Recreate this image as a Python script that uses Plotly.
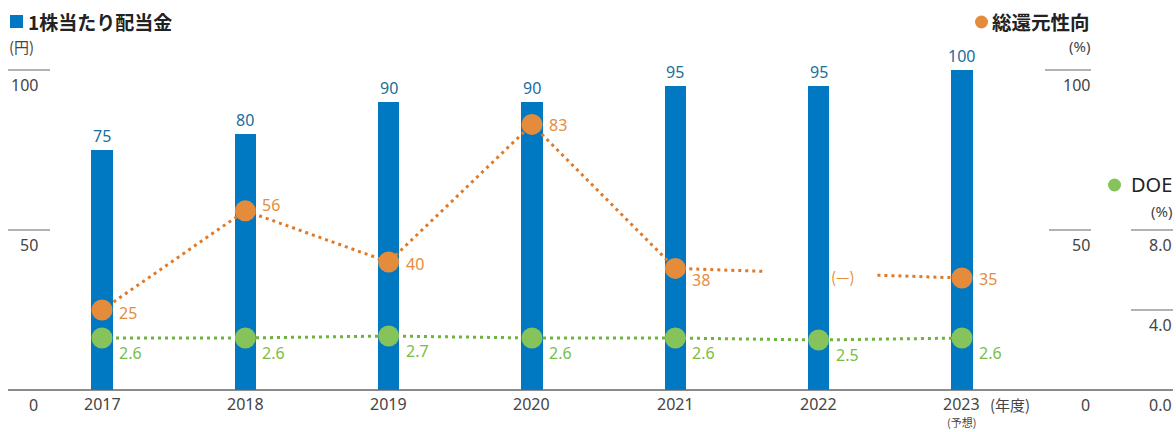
import plotly.graph_objects as go

# ---------------- data ----------------
years = ["2017", "2018", "2019", "2020", "2021", "2022", "2023"]
year_notes = ["", "", "", "", "", "", "(予想)"]
dividend = [75, 80, 90, 90, 95, 95, 100]            # 円
total_return = [25, 56, 40, 83, 38, None, 35]       # %
doe = [2.6, 2.6, 2.7, 2.6, 2.6, 2.5, 2.6]           # %

left_ticks = [0, 50, 100]
right_ticks = [0, 50, 100]
doe_ticks = [0.0, 4.0, 8.0]

# ---------------- style ----------------
W, H = 1176, 432
BLUE = "#0079C2"
BLUE_TXT = "#1A6E9A"
ORANGE = "#E58C3C"
ORANGE_LINE = "#E07A26"
GREEN = "#86C35A"
GREEN_LINE = "#6DB33F"
GREEN_TXT = "#78BE45"
GRAY = "#444444"
LINEGRAY = "#666666"
FONT = "Noto Sans, Noto Sans CJK JP"
JFONT = "Noto Sans CJK JP"

X0_PX, X1_PX = 8, 1173         # plot area left/right
Y0_PX, Y1_PX = 390, 70         # baseline / 100 line
CAT0_PX, CAT_STEP = 102, 143.33
xr = [(X0_PX - CAT0_PX) / CAT_STEP, (X1_PX - CAT0_PX) / CAT_STEP]

def px(x):
    return x / W

def py(y):
    return 1 - y / H

xs = list(range(len(years)))

fig = go.Figure()

# bars
fig.add_trace(go.Bar(
    x=xs, y=dividend, width=0.15, marker=dict(color=BLUE, line=dict(width=0)),
    yaxis="y", hoverinfo="skip",
))

# DOE line
fig.add_trace(go.Scatter(
    x=xs, y=doe, mode="lines+markers", yaxis="y3",
    line=dict(color=GREEN_LINE, width=3, dash="3px,4px"),
    marker=dict(color=GREEN, size=21), cliponaxis=False, hoverinfo="skip",
))

# total return ratio: continuous part
fig.add_trace(go.Scatter(
    x=xs, y=total_return, mode="lines", yaxis="y2", connectgaps=False,
    line=dict(color=ORANGE_LINE, width=3, dash="3px,4px"), hoverinfo="skip",
))
# broken bridge across the missing year (partial segments as drawn in the reference)
i_a, i_b = 4, 6
gap_a, gap_b = 0.62, 1.41   # fractions (in category units from i_a) where the line is interrupted
ya, yb = total_return[i_a], total_return[i_b]
span = i_b - i_a
seg_x = [i_a, i_a + gap_a, None, i_a + gap_b, i_b]
seg_y = [ya, ya + (yb - ya) * gap_a / span, None, ya + (yb - ya) * gap_b / span, yb]
fig.add_trace(go.Scatter(
    x=seg_x, y=seg_y, mode="lines", yaxis="y2", connectgaps=False,
    line=dict(color=ORANGE_LINE, width=3, dash="3px,4px"), hoverinfo="skip",
))
# orange markers
fig.add_trace(go.Scatter(
    x=xs, y=total_return, mode="markers", yaxis="y2",
    marker=dict(color=ORANGE, size=21), cliponaxis=False, hoverinfo="skip",
))

annotations = []
shapes = []

# bar labels
for i, v in enumerate(dividend):
    annotations.append(dict(x=i, y=v, xref="x", yref="y", text=str(v),
                            xanchor="center", yanchor="bottom", yshift=1,
                            showarrow=False, font=dict(color=BLUE_TXT, size=16, family=FONT)))

# orange labels
tr_yshift = [-3, 6, -2, -1, -12, 0, -1]
for i, v in enumerate(total_return):
    if v is None:
        continue
    annotations.append(dict(x=i, y=v, xref="x", yref="y2", text=str(v),
                            xanchor="left", yanchor="middle", xshift=15, yshift=tr_yshift[i],
                            showarrow=False, font=dict(color=ORANGE, size=16, family=FONT)))
# missing value label
annotations.append(dict(x=5, y=35.6, xref="x", yref="y2", text="(—)",
                        xanchor="left", yanchor="middle", xshift=10,
                        showarrow=False, font=dict(color=ORANGE, size=15, family=JFONT)))
# DOE labels
for i, v in enumerate(doe):
    annotations.append(dict(x=i, y=v, xref="x", yref="y3", text=f"{v:.1f}",
                            xanchor="left", yanchor="middle", xshift=15, yshift=-15,
                            showarrow=False, font=dict(color=GREEN_TXT, size=16, family=FONT)))

# x tick labels + notes
for i, yr in enumerate(years):
    annotations.append(dict(x=i, y=py(404), xref="x", yref="paper", text=yr,
                            xanchor="center", yanchor="middle", showarrow=False,
                            font=dict(color=GRAY, size=16, family=FONT)))
    if year_notes[i]:
        annotations.append(dict(x=i, y=py(422), xref="x", yref="paper", text=year_notes[i],
                                xanchor="center", yanchor="middle", showarrow=False,
                                font=dict(color=GRAY, size=11, family=JFONT)))
annotations.append(dict(x=px(1010), y=py(404), xref="paper", yref="paper", text="(年度)",
                        xanchor="center", yanchor="middle", showarrow=False,
                        font=dict(color=GRAY, size=15, family=JFONT)))

# left axis labels + ticks
for v in left_ticks:
    y_line = Y0_PX - (Y0_PX - Y1_PX) * v / 100
    annotations.append(dict(x=px(40), y=py(y_line + 15), xref="paper", yref="paper", text=str(v),
                            xanchor="right", yanchor="middle", showarrow=False,
                            font=dict(color=GRAY, size=16, family=FONT)))
    if v > 0:
        shapes.append(dict(type="line", xref="paper", yref="paper", x0=px(8), x1=px(50),
                           y0=py(y_line), y1=py(y_line), line=dict(color=LINEGRAY, width=1.2)))
# right axis (総還元性向)
for v in right_ticks:
    y_line = Y0_PX - (Y0_PX - Y1_PX) * v / 100
    annotations.append(dict(x=px(1092), y=py(y_line + 15), xref="paper", yref="paper", text=str(v),
                            xanchor="right", yanchor="middle", showarrow=False,
                            font=dict(color=GRAY, size=16, family=FONT)))
    if v > 0:
        shapes.append(dict(type="line", xref="paper", yref="paper",
                           x0=px(1045 if v == 100 else 1049), x1=px(1091),
                           y0=py(y_line), y1=py(y_line), line=dict(color=LINEGRAY, width=1.2)))
# DOE axis
for v in doe_ticks:
    y_line = Y0_PX - (Y0_PX - Y1_PX) * v / 16
    annotations.append(dict(x=px(1174), y=py(y_line + 15), xref="paper", yref="paper", text=f"{v:.1f}",
                            xanchor="right", yanchor="middle", showarrow=False,
                            font=dict(color=GRAY, size=16, family=FONT)))
    if v > 0:
        shapes.append(dict(type="line", xref="paper", yref="paper", x0=px(1131), x1=px(1173),
                           y0=py(y_line), y1=py(y_line), line=dict(color=LINEGRAY, width=1.2)))

# baseline
shapes.append(dict(type="line", xref="paper", yref="paper", x0=px(X0_PX), x1=px(X1_PX),
                   y0=py(Y0_PX), y1=py(Y0_PX), line=dict(color=LINEGRAY, width=1.4)))

# legend headers
shapes.append(dict(type="rect", xref="paper", yref="paper", x0=px(10), x1=px(23),
                   y0=py(28), y1=py(15), fillcolor=BLUE, line=dict(width=0)))
annotations.append(dict(x=px(26), y=py(21), xref="paper", yref="paper", text="<b>1株当たり配当金</b>",
                        xanchor="left", yanchor="middle", showarrow=False,
                        font=dict(color="#222222", size=19, family=JFONT)))
annotations.append(dict(x=px(7), y=py(46), xref="paper", yref="paper", text="(円)",
                        xanchor="left", yanchor="middle", showarrow=False,
                        font=dict(color=GRAY, size=15, family=JFONT)))

shapes.append(dict(type="circle", xref="paper", yref="paper", x0=px(975), x1=px(988),
                   y0=py(28.5), y1=py(15.5), fillcolor=ORANGE, line=dict(width=0)))
annotations.append(dict(x=px(1092), y=py(21), xref="paper", yref="paper", text="<b>総還元性向</b>",
                        xanchor="right", yanchor="middle", showarrow=False,
                        font=dict(color="#222222", size=19.5, family=JFONT)))
annotations.append(dict(x=px(1092), y=py(46), xref="paper", yref="paper", text="(%)",
                        xanchor="right", yanchor="middle", showarrow=False,
                        font=dict(color=GRAY, size=15, family=FONT)))

shapes.append(dict(type="circle", xref="paper", yref="paper", x0=px(1108), x1=px(1121),
                   y0=py(191.5), y1=py(178.5), fillcolor=GREEN, line=dict(width=0)))
annotations.append(dict(x=px(1174), y=py(185), xref="paper", yref="paper", text="DOE",
                        xanchor="right", yanchor="middle", showarrow=False,
                        font=dict(color="#222222", size=20, family=FONT)))
annotations.append(dict(x=px(1174), y=py(211), xref="paper", yref="paper", text="(%)",
                        xanchor="right", yanchor="middle", showarrow=False,
                        font=dict(color=GRAY, size=15, family=FONT)))

ydom = [py(Y0_PX), py(Y1_PX)]
fig.update_layout(
    width=W, height=H, margin=dict(l=0, r=0, t=0, b=0),
    paper_bgcolor="white", plot_bgcolor="white", showlegend=False,
    xaxis=dict(domain=[px(X0_PX), px(X1_PX)], range=xr, showgrid=False, zeroline=False,
               showticklabels=False, ticks="", showline=False, fixedrange=True),
    yaxis=dict(domain=ydom, range=[0, 100], showgrid=False, zeroline=False,
               showticklabels=False, showline=False, fixedrange=True),
    yaxis2=dict(domain=ydom, range=[0, 100], overlaying="y", showgrid=False, zeroline=False,
                showticklabels=False, showline=False, fixedrange=True),
    yaxis3=dict(domain=ydom, range=[0, 16], overlaying="y", showgrid=False, zeroline=False,
                showticklabels=False, showline=False, fixedrange=True),
    annotations=annotations, shapes=shapes, bargap=0,
    font=dict(family=FONT, color=GRAY),
)

fig.write_html("out.html", config={"displayModeBar": False})
